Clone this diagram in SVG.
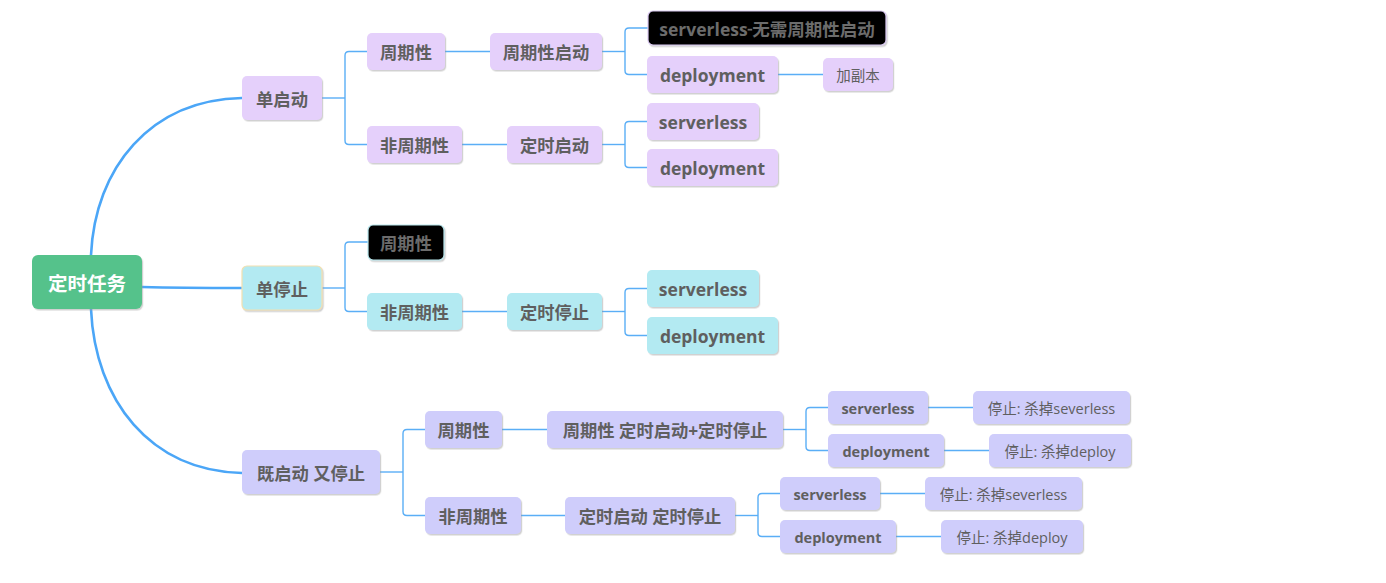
<svg xmlns="http://www.w3.org/2000/svg" width="1386" height="583" viewBox="0 0 1386 583">
<defs>
<filter id="sh" x="-10%" y="-20%" width="120%" height="150%">
<feDropShadow dx="1.2" dy="1.5" stdDeviation="0.7" flood-color="#9a9a9a" flood-opacity="0.45"/>
</filter>
<style>
text{font-family:"Open Sans","Noto Sans CJK SC","Noto Sans",sans-serif;text-anchor:middle;dominant-baseline:central;fill:#5f5f5f}
.b{font-weight:bold;font-size:17.3px}
.bl{font-weight:bold;font-size:17.5px}
.sb{font-weight:bold;font-size:14.5px}
.sn{font-weight:normal;font-size:14.5px}
.root{font-weight:bold;font-size:19.5px;fill:#ffffff}
.dk{fill:#6c6c6c}
.pu{fill:#e5d0fb}
.cy{fill:#b3eaf2}
.lv{fill:#cfcdfb}
.bk{fill:#000000}
rect{filter:url(#sh)}
.main{fill:none;stroke:#4ba6f7;stroke-width:2.6}
.ln{fill:none;stroke:#5aaef6;stroke-width:1.4}
</style>
</defs>
<rect width="1386" height="583" fill="#ffffff" style="filter:none"/>
<g id="connectors">
<path class="main" d="M91,255 C95,168 150,100 242,98"/>
<path class="main" d="M142,287 C180,288 210,288 242,288"/>
<path class="main" d="M91,309 C95,400 150,471 242,473"/>
<path class="ln" d="M322,98 H345"/>
<path class="ln" d="M367,51.5 H349 Q345,51.5 345,55.5 V140.5 Q345,144.5 349,144.5 H367"/>
<path class="ln" d="M445,51.5 H490"/>
<path class="ln" d="M462,144.5 H507"/>
<path class="ln" d="M602,51.5 H625"/>
<path class="ln" d="M648,28 H629 Q625,28 625,32 V70.5 Q625,74.5 629,74.5 H647"/>
<path class="ln" d="M778,74.5 H823"/>
<path class="ln" d="M602,144.5 H625"/>
<path class="ln" d="M647,121.5 H629 Q625,121.5 625,125.5 V163.5 Q625,167.5 629,167.5 H647"/>
<path class="ln" d="M322,288 H345"/>
<path class="ln" d="M368,242 H349 Q345,242 345,246 V307.5 Q345,311.5 349,311.5 H367"/>
<path class="ln" d="M462,311.5 H507"/>
<path class="ln" d="M602,311.5 H625"/>
<path class="ln" d="M647,288.5 H629 Q625,288.5 625,292.5 V331.5 Q625,335.5 629,335.5 H647"/>
<path class="ln" d="M380,472 H403"/>
<path class="ln" d="M425,429.5 H407 Q403,429.5 403,433.5 V511.5 Q403,515.5 407,515.5 H425"/>
<path class="ln" d="M502,429.5 H547"/>
<path class="ln" d="M521,515.5 H565"/>
<path class="ln" d="M783,429.5 H806"/>
<path class="ln" d="M828,407.5 H810 Q806,407.5 806,411.5 V446.5 Q806,450.5 810,450.5 H828"/>
<path class="ln" d="M928,407.5 H973"/>
<path class="ln" d="M944,450.5 H989"/>
<path class="ln" d="M735,515.5 H758"/>
<path class="ln" d="M780,493.5 H762 Q758,493.5 758,497.5 V532.5 Q758,536.5 762,536.5 H780"/>
<path class="ln" d="M880,493.5 H925"/>
<path class="ln" d="M896,536.5 H941"/>
</g>
<g id="root"><rect x="32" y="255" width="110" height="54" rx="6" fill="#55c28b"/><text class="root" x="87" y="283">定时任务</text></g>
<g id="n1"><rect class="pu" x="242" y="76" width="80" height="44" rx="5"/><text class="b" x="282" y="99">单启动</text></g>
<g id="n2"><rect class="cy" x="242" y="266" width="80" height="44" rx="5" stroke="#f3e0b0" stroke-width="1.2"/><text class="b" x="282" y="289">单停止</text></g>
<g id="n3"><rect class="lv" x="242" y="450" width="138" height="44" rx="5"/><text class="b" x="311" y="473">既启动 又停止</text></g>
<g id="n1a"><rect class="pu" x="367" y="33" width="78" height="37" rx="5"/><text class="b" x="406" y="52.5">周期性</text></g>
<g id="n1b"><rect class="pu" x="367" y="126" width="95" height="37" rx="5"/><text class="b" x="414.5" y="145.5">非周期性</text></g>
<g id="n1a1"><rect class="pu" x="490" y="33" width="112" height="37" rx="5"/><text class="b" x="546" y="52.5">周期性启动</text></g>
<g id="n1b1"><rect class="pu" x="507" y="126" width="95" height="37" rx="5"/><text class="b" x="554.5" y="145.5">定时启动</text></g>
<g id="n1a1a"><rect class="bk" x="648" y="11" width="238" height="34" rx="5" stroke="#dccbf3" stroke-width="1.2"/><text class="bl dk" x="767" y="29">serverless<tspan text-decoration="line-through"> </tspan>无需周期性启动</text></g>
<g id="n1a1b"><rect class="pu" x="647" y="56" width="131" height="37" rx="5"/><text class="bl" x="712.5" y="75">deployment</text></g>
<g id="n1a1b1"><rect class="pu" x="823" y="58" width="70" height="33" rx="5"/><text class="sn" x="858" y="75">加副本</text></g>
<g id="n1b1a"><rect class="pu" x="647" y="103" width="112" height="37" rx="5"/><text class="bl" x="703" y="122">serverless</text></g>
<g id="n1b1b"><rect class="pu" x="647" y="149" width="131" height="37" rx="5"/><text class="bl" x="712.5" y="168">deployment</text></g>
<g id="n2a"><rect class="bk" x="368" y="225" width="76" height="35" rx="5" stroke="#b9e8ee" stroke-width="1.2"/><text class="b dk" x="406" y="243.5">周期性</text></g>
<g id="n2b"><rect class="cy" x="367" y="293" width="95" height="37" rx="5"/><text class="b" x="414.5" y="312.5">非周期性</text></g>
<g id="n2b1"><rect class="cy" x="507" y="293" width="95" height="37" rx="5"/><text class="b" x="554.5" y="312.5">定时停止</text></g>
<g id="n2b1a"><rect class="cy" x="647" y="270" width="112" height="37" rx="5"/><text class="bl" x="703" y="289">serverless</text></g>
<g id="n2b1b"><rect class="cy" x="647" y="317" width="131" height="37" rx="5"/><text class="bl" x="712.5" y="336">deployment</text></g>
<g id="n3a"><rect class="lv" x="425" y="411" width="77" height="37" rx="5"/><text class="b" x="463.5" y="430.5">周期性</text></g>
<g id="n3b"><rect class="lv" x="425" y="497" width="96" height="37" rx="5"/><text class="b" x="473" y="516.5">非周期性</text></g>
<g id="n3a1"><rect class="lv" x="547" y="411" width="236" height="37" rx="5"/><text class="b" x="665" y="430.5">周期性 定时启动+定时停止</text></g>
<g id="n3b1"><rect class="lv" x="565" y="497" width="170" height="37" rx="5"/><text class="b" x="650" y="516.5">定时启动 定时停止</text></g>
<g id="n3a1a"><rect class="lv" x="828" y="391" width="100" height="33" rx="5"/><text class="sb" x="878" y="408">serverless</text></g>
<g id="n3a1a1"><rect class="lv" x="973" y="391" width="157" height="33" rx="5"/><text class="sn" x="1051.5" y="408">停止: 杀掉severless</text></g>
<g id="n3a1b"><rect class="lv" x="828" y="434" width="116" height="33" rx="5"/><text class="sb" x="886" y="451">deployment</text></g>
<g id="n3a1b1"><rect class="lv" x="989" y="434" width="142" height="33" rx="5"/><text class="sn" x="1060" y="451">停止: 杀掉deploy</text></g>
<g id="n3b1a"><rect class="lv" x="780" y="477" width="100" height="33" rx="5"/><text class="sb" x="830" y="494">serverless</text></g>
<g id="n3b1a1"><rect class="lv" x="925" y="477" width="157" height="33" rx="5"/><text class="sn" x="1003.5" y="494">停止: 杀掉severless</text></g>
<g id="n3b1b"><rect class="lv" x="780" y="520" width="116" height="33" rx="5"/><text class="sb" x="838" y="537">deployment</text></g>
<g id="n3b1b1"><rect class="lv" x="941" y="520" width="142" height="33" rx="5"/><text class="sn" x="1012" y="537">停止: 杀掉deploy</text></g>
</svg>
